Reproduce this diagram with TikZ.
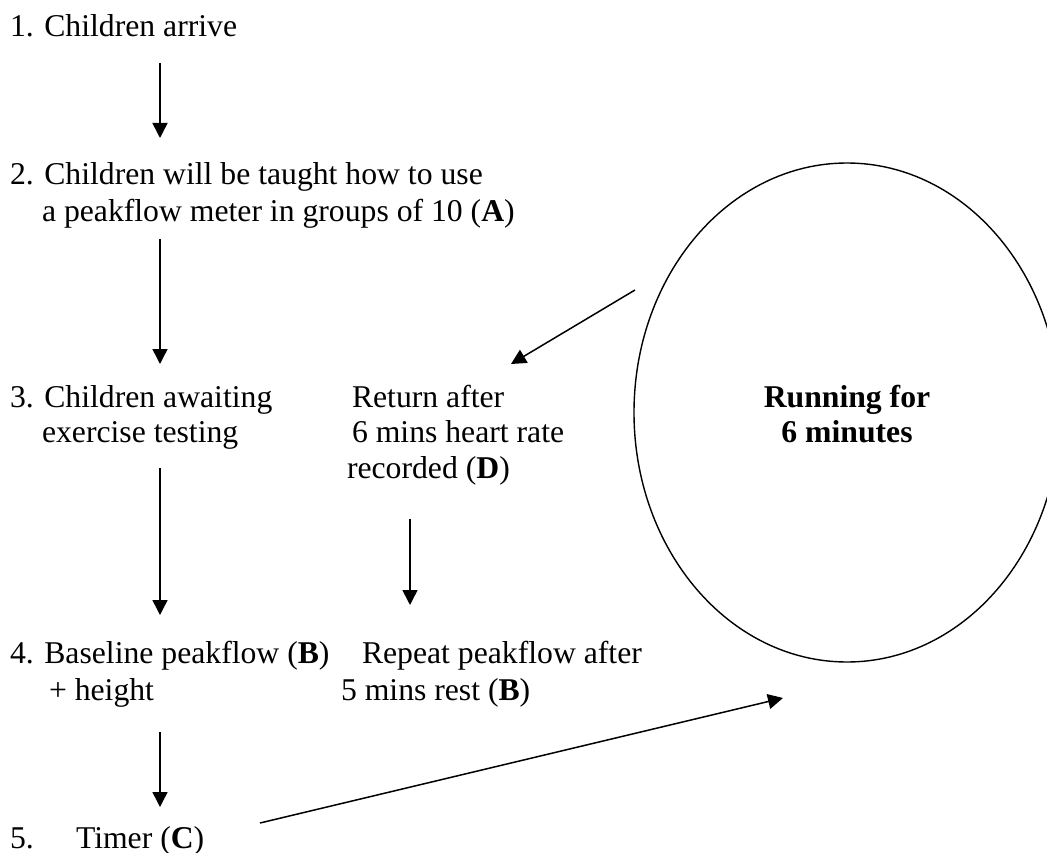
\documentclass[tikz,border=0pt]{standalone}
\usepackage{fontspec}
\setmainfont{Liberation Serif}
\usetikzlibrary{arrows.meta,shapes.geometric}
\begin{document}
\begin{tikzpicture}[x=1pt,y=-1pt,
  txt/.style={anchor=base west, inner sep=0pt, outer sep=0pt, font=\fontsize{31.7}{38}\selectfont},
  ctr/.style={anchor=base, inner sep=0pt, outer sep=0pt, font=\fontsize{31.7}{38}\selectfont\bfseries},
  arr/.style={line width=1.5pt, -{Triangle[length=15pt,width=15pt]}},
  oval/.style={draw, ellipse, line width=1.4pt, minimum width=426pt, minimum height=499pt, inner sep=0pt}]
\useasboundingbox (0,0) rectangle (1047,853);
\clip (0,0) rectangle (1047,853);
\fill[white] (0,0) rectangle (1047,853);

% texts
\node[txt] (s1) at (10,37) {1. Children arrive};
\node[txt] (s2a) at (10,185) {2. Children will be taught how to use};
\node[txt] (s2b) at (42,222) {a peakflow meter in groups of 10 (\textbf{A})};
\node[txt] (s3a) at (10,407) {3. Children awaiting};
\node[txt] (s3b) at (42,442) {exercise testing};
\node[txt] (d1) at (352,407) {Return after};
\node[txt] (d2) at (352,442) {6 mins heart rate};
\node[txt] (d3) at (347,478) {recorded (\textbf{D})};
\node[txt] (s4a) at (10,663) {4. Baseline peakflow (\textbf{B})};
\node[txt] (s4b) at (49,700) {+ height};
\node[txt] (r1) at (362,663) {Repeat peakflow after};
\node[txt] (r2) at (341,700) {5 mins rest (\textbf{B})};
\node[txt] (s5n) at (10,848) {5.};
\node[txt] (s5) at (76,848) {Timer (\textbf{C})};

% ellipse
\node[oval] (run) at (847,412.5) {};
\node[ctr] (run1) at (847,407) {Running for};
\node[ctr] (run2) at (847,442) {6 minutes};

% connector end points
\coordinate (a1s) at (160,63);  \coordinate (a1e) at (160,138);
\coordinate (a2s) at (160,239); \coordinate (a2e) at (160,364);
\coordinate (a3s) at (160,468); \coordinate (a3e) at (160,615);
\coordinate (a4s) at (160,732); \coordinate (a4e) at (160,807);
\coordinate (ads) at (410,519); \coordinate (ade) at (410,605);
\coordinate (ers) at (635,290); \coordinate (ere) at (511,364);
\coordinate (tms) at (260,823); \coordinate (tme) at (783,698);

\draw[arr] (a1s) -- (a1e);
\draw[arr] (a2s) -- (a2e);
\draw[arr] (a3s) -- (a3e);
\draw[arr] (a4s) -- (a4e);
\draw[arr] (ads) -- (ade);
\draw[arr] (ers) -- (ere);
\draw[arr] (tms) -- (tme);
\end{tikzpicture}
\end{document}
